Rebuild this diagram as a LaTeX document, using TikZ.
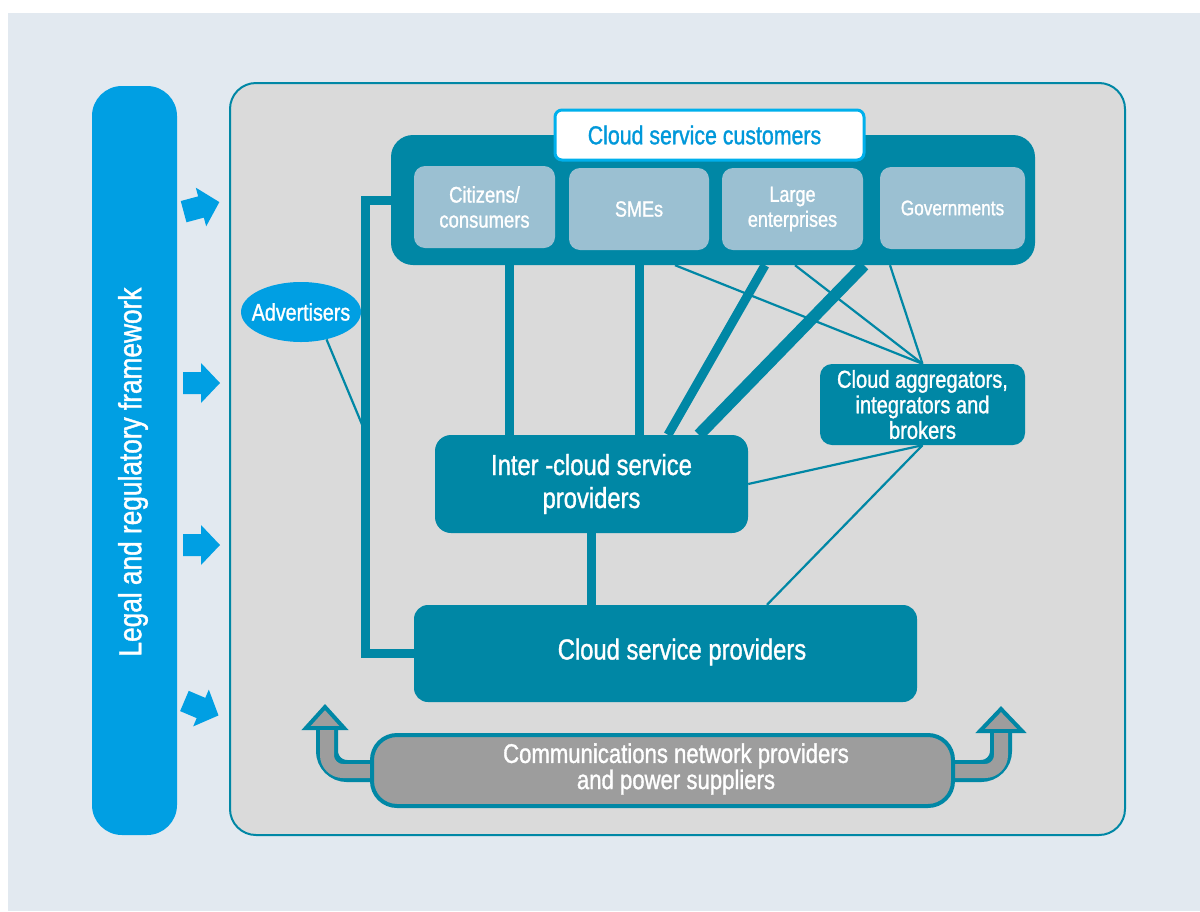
\documentclass[tikz,border=0pt]{standalone}
\usepackage{fontspec}
\setmainfont{Liberation Sans}[FakeStretch=0.82,FakeBold=1.2]
\usetikzlibrary{shapes.geometric}

\definecolor{bgblue}{HTML}{E2E9F0}
\definecolor{panelgray}{HTML}{DADADA}
\definecolor{tealc}{HTML}{0087A5}
\definecolor{brightblue}{HTML}{009FE3}
\definecolor{subblue}{HTML}{9BC0D2}
\definecolor{titleblue}{HTML}{0098DA}
\definecolor{titleframe}{HTML}{00B0EC}
\definecolor{commgray}{HTML}{9D9D9D}

\newcommand{\fs}[2]{\fontsize{#1}{#2}\selectfont}

\tikzset{
  tealbox/.style={fill=tealc, rounded corners=#1, inner sep=0pt, text=white, align=center},
  tealbox/.default=12pt,
  subbox/.style={fill=subblue, rounded corners=11pt, inner sep=0pt, text=white, align=center,
    minimum height=82pt, font=\fs{22}{25}},
  boxtext/.style={text=white, align=center, inner sep=0pt},
  thickline/.style={draw=tealc, line width=9pt},
  thinline/.style={draw=tealc, line width=2.2pt},
  sidearrow/.style={fill=brightblue},
}

\begin{document}
\begin{tikzpicture}[x=1pt,y=-1pt]

\fill[white] (0,0) rectangle (1200,911);
\useasboundingbox (0,0) rectangle (1200,911);
\fill[bgblue] (8,13) rectangle (1200,911);

\node[fill=brightblue, rounded corners=30pt, rotate=90, minimum width=749pt, minimum height=85pt,
  inner sep=0pt] (legal) at (134.5,460.5) {};
\node[boxtext, rotate=90, font=\fs{32}{36}] (legaltext) at (133,472) {Legal and regulatory framework};

\node[fill=panelgray, draw=tealc, line width=2pt, rounded corners=26pt, minimum width=895pt,
  minimum height=752pt, inner sep=0pt] (panel) at (677.5,459) {};

\foreach \yy/\ang in {207/15, 383/0, 545/0, 708/-23}
  \fill[sidearrow, shift={(201,\yy)}, rotate=\ang] (-18,-11) -- (0,-11) -- (0,-20) -- (19,0) -- (0,20) -- (0,11) -- (-18,11) -- cycle;

\node[tealbox=22pt, minimum width=644pt, minimum height=130pt] (cust) at (713,200) {};
\node[fill=white, draw=titleframe, line width=3pt, rounded corners=7pt, minimum width=309pt,
  minimum height=50pt, inner sep=0pt, text=titleblue, font=\fs{26}{30}] (title) at (709.5,135) {\hspace*{-10pt}Cloud service customers};

\node[subbox, minimum width=141pt, font=\fs{22.5}{25}] (citizens) at (484.5,207) {Citizens/\\consumers};
\node[subbox, minimum width=140pt] (smes) at (639,209) {SMEs};
\node[subbox, minimum width=141pt] (large) at (792.5,209) {Large\\enterprises};
\node[subbox, minimum width=145pt, font=\fs{21}{25}] (gov) at (952.5,208) {Governments};

\node[ellipse, fill=brightblue, minimum width=120pt, minimum height=60pt, inner xsep=-14pt, inner ysep=0pt,
  text=white, font=\fs{24}{28}] (adv) at (301,312) {Advertisers};

\node[tealbox=16pt, minimum width=313pt, minimum height=98pt, font=\fs{29}{33}] (inter) at (591.5,484) {Inter -cloud service\\providers};
\node[tealbox=14pt, minimum width=503pt, minimum height=97pt] (csp) at (665.5,653.5) {};
\node[boxtext, font=\fs{29}{33}] (csptext) at (682,652) {Cloud service providers};
\node[tealbox=12pt, minimum width=205pt, minimum height=81pt, font=\fs{24.5}{25.5}] (agg) at (922.5,404.5) {Cloud aggregators,\\integrators and\\brokers};

\coordinate (advend) at (366,434);

\draw[thickline] (cust.west) -- ++(-25,0) |- (csp.west);
\draw[thinline] (adv.-47) -- (advend);
\draw[thickline] (509,0 |- cust.south) -- (509,0 |- inter.north);
\draw[thickline] (639,0 |- cust.south) -- (639,0 |- inter.north);
\draw[thickline] (765,0 |- cust.south) -- (668,0 |- inter.north);
\draw[thickline, line width=12pt] (864,0 |- cust.south) -- (699,0 |- inter.north);
\draw[thickline] (inter.south) -- (inter.south |- csp.north);
\draw[thinline] (675,0 |- cust.south) -- (agg.north);
\draw[thinline] (795,0 |- cust.south) -- (agg.north);
\draw[thinline] (890,0 |- cust.south) -- (agg.north);
\draw[thinline] (agg.south) -- (inter.east);
\draw[thinline] (agg.south) -- (767,0 |- csp.north);

\draw[tealc, line width=22pt, rounded corners=20pt] (380,771) -- (327,771) -- (327,724);
\filldraw[fill=commgray, draw=tealc, line width=4pt, line join=miter] (306,728) -- (325,707) -- (344,728) -- cycle;
\draw[commgray, line width=14pt, rounded corners=16pt] (380,771) -- (327,771) -- (327,730);

\draw[tealc, line width=22pt, rounded corners=20pt] (945,771) -- (1001,771) -- (1001,727);
\filldraw[fill=commgray, draw=tealc, line width=4pt, line join=miter] (980,731) -- (1001,709) -- (1022,731) -- cycle;
\draw[commgray, line width=14pt, rounded corners=16pt] (945,771) -- (1001,771) -- (1001,733);

\node[fill=commgray, draw=tealc, line width=4pt, rounded corners=25pt, minimum width=581pt,
  minimum height=71pt, inner sep=0pt] (comm) at (662.5,770.5) {};
\node[boxtext, font=\fs{27}{25}] (commtext) at (676,769) {Communications network providers\\and power suppliers};

\end{tikzpicture}
\end{document}
